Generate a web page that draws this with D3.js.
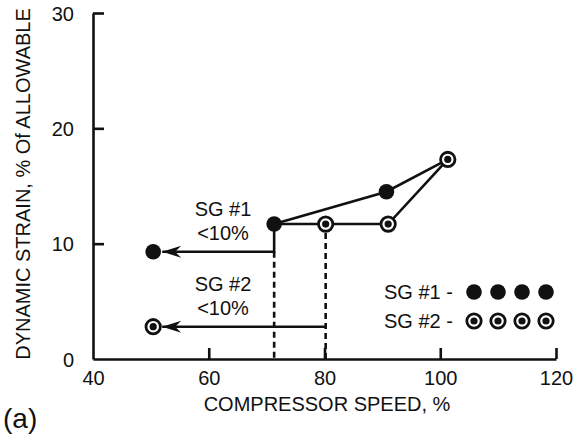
<!DOCTYPE html>
<html><head><meta charset="utf-8">
<script src="https://cdn.jsdelivr.net/npm/d3@7"></script>
<style>
body{margin:0;background:#fff;}
svg{display:block;font-family:"Liberation Sans",Arial,Helvetica,sans-serif;}
</style></head>
<body>
<svg id="c" width="574" height="438"></svg>
<script>
// Data
const xTicks = [40, 60, 80, 100, 120];
const yTicks = [0, 10, 20, 30];
const sg1Speed = [71.3, 90.7, 101.3];
const sg1Strain = [11.7, 14.5, 17.3];
const sg2Speed = [80.2, 91.0, 101.3];
const sg2Strain = [11.7, 11.7, 17.3];
const belowSpeed = [50.4, 50.4];     // SG#1, SG#2 "<10%" points
const belowStrain = [9.3, 2.8];
const annoLabels = [["SG #1", "<10%"], ["SG #2", "<10%"]];
const legendLabels = ["SG #1 -", "SG #2 -"];

const svg = d3.select("#c");
const x = d3.scaleLinear().domain([40, 120]).range([93, 556]);
const y = d3.scaleLinear().domain([0, 30]).range([359, 13]);
const ink = "#111";
const sw = 2.6;

// defs: barbed arrowhead (tip at origin, pointing along path direction)
svg.append("defs").append("marker")
  .attr("id", "arr").attr("viewBox", "-20 -8 21 16")
  .attr("refX", 0).attr("refY", 0)
  .attr("markerWidth", 21).attr("markerHeight", 16)
  .attr("markerUnits", "userSpaceOnUse").attr("orient", "auto")
  .append("path").attr("d", "M0,0 L-19,-6 L-13,0 L-19,6 Z").attr("fill", ink);

// Axes
const gx = svg.append("g").attr("transform", `translate(0,${y(0)})`)
  .call(d3.axisBottom(x).tickValues(xTicks).tickSize(-11).tickSizeOuter(0).tickPadding(22));
const gy = svg.append("g").attr("transform", `translate(${x(40)},0)`)
  .call(d3.axisLeft(y).tickValues(yTicks).tickSize(-11).tickSizeOuter(0).tickPadding(19));
[gx, gy].forEach(g => {
  g.select(".domain").attr("stroke", ink).attr("stroke-width", sw);
  g.selectAll(".tick line").attr("stroke", ink).attr("stroke-width", sw);
  g.selectAll(".tick text").attr("fill", ink).attr("font-size", 20)
    .attr("font-family", '"Liberation Sans",Arial,sans-serif');
});
gx.selectAll(".tick text").attr("dy", "0.2em");
gx.selectAll(".tick").filter(d => d === 40).select("line").remove();
gy.selectAll(".tick").filter(d => d === 0).select("line").remove();
gy.selectAll(".tick text").attr("dy", "0.35em");

// Axis titles
svg.append("text").attr("x", 327).attr("y", 411).attr("text-anchor", "middle")
  .attr("font-size", 20).attr("fill", ink).text("COMPRESSOR SPEED, %");
svg.append("text").attr("transform", "translate(30,184) rotate(-90)").attr("text-anchor", "middle")
  .attr("font-size", 20).attr("fill", ink).text("DYNAMIC STRAIN, % Of ALLOWABLE");
svg.append("text").attr("x", 3).attr("y", 428).attr("font-size", 28).attr("fill", ink).text("(a)");

const line = d3.line();
const sg1 = sg1Speed.map((v, i) => [x(v), y(sg1Strain[i])]);
const sg2 = sg2Speed.map((v, i) => [x(v), y(sg2Strain[i])]);

// Dashed verticals
svg.append("line").attr("x1", x(sg1Speed[0])).attr("x2", x(sg1Speed[0]))
  .attr("y1", y(belowStrain[0])).attr("y2", y(0))
  .attr("stroke", ink).attr("stroke-width", sw).attr("stroke-dasharray", "6,4");
svg.append("line").attr("x1", x(sg2Speed[0])).attr("x2", x(sg2Speed[0]))
  .attr("y1", y(sg2Strain[0]) + 9).attr("y2", y(0))
  .attr("stroke", ink).attr("stroke-width", sw).attr("stroke-dasharray", "6,4");

// Step + arrows (tip touches the marker edge)
const tipOff = 9;
svg.append("path").attr("fill", "none").attr("stroke", ink).attr("stroke-width", sw)
  .attr("d", line([[x(sg1Speed[0]), y(sg1Strain[0])], [x(sg1Speed[0]), y(belowStrain[0])], [x(belowSpeed[0]) + tipOff, y(belowStrain[0])]]))
  .attr("marker-end", "url(#arr)");
svg.append("path").attr("fill", "none").attr("stroke", ink).attr("stroke-width", sw)
  .attr("d", line([[x(sg2Speed[0]), y(belowStrain[1])], [x(belowSpeed[1]) + tipOff, y(belowStrain[1])]]))
  .attr("marker-end", "url(#arr)");

// Series lines
svg.append("path").attr("fill", "none").attr("stroke", ink).attr("stroke-width", sw).attr("d", line(sg1));
svg.append("path").attr("fill", "none").attr("stroke", ink).attr("stroke-width", sw).attr("d", line(sg2));
svg.append("path").attr("fill", "none").attr("stroke", ink).attr("stroke-width", sw).attr("d", line([sg1[0], sg2[0]]));

// Markers
function filled(cx, cy) {
  svg.append("circle").attr("cx", cx).attr("cy", cy).attr("r", 7.8).attr("fill", ink);
}
function open(cx, cy) {
  svg.append("circle").attr("cx", cx).attr("cy", cy).attr("r", 7.2).attr("fill", "#fff")
    .attr("stroke", ink).attr("stroke-width", 2.8);
  svg.append("circle").attr("cx", cx).attr("cy", cy).attr("r", 3.6).attr("fill", ink);
}
sg1.slice(0, 2).forEach(p => filled(p[0], p[1]));
sg2.forEach(p => open(p[0], p[1]));
filled(x(belowSpeed[0]), y(belowStrain[0]));
open(x(belowSpeed[1]), y(belowStrain[1]));

// Annotations
annoLabels.forEach((lbl, i) => {
  const by = y(belowStrain[i]) - 36;
  lbl.forEach((t, j) => {
    svg.append("text").attr("x", 223).attr("y", by + j * 24).attr("text-anchor", "middle")
      .attr("font-size", 20).attr("fill", ink).text(t);
  });
});

// Legend
legendLabels.forEach((t, i) => {
  const ly = 292 + i * 29;
  svg.append("text").attr("x", 384).attr("y", ly + 7).attr("font-size", 20).attr("fill", ink).text(t);
  for (let k = 0; k < 4; k++) {
    const cx = 474 + k * 24;
    if (i === 0) filled(cx, ly); else open(cx, ly);
  }
});
</script>
</body></html>
